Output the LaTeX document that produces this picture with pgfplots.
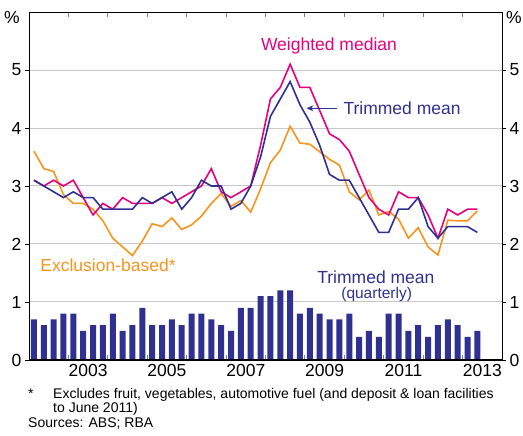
\documentclass[border=0pt]{standalone}
\usepackage{pgfplots}
\pgfplotsset{compat=1.18}
\usepackage{pgfplotstable}
\usepackage{fontspec}
\setmainfont{Liberation Sans}
\usetikzlibrary{arrows.meta}

\definecolor{wmpink}{HTML}{E6007E}
\definecolor{tmblue}{HTML}{2E3192}
\definecolor{exorange}{HTML}{F7941D}
\definecolor{gridgrey}{HTML}{C8C8C8}

\newcommand{\lab}{\fontsize{17.5}{20}\selectfont}
\newcommand{\foot}{\fontsize{14}{16}\selectfont}

% year-ended inflation (wm, tm, ex) and quarterly trimmed mean (q)
\pgfplotstableread{
date     wm   tm   ex    q
2002.125 3.1  3.1  3.6   0.7
2002.375 3.0  3.0  3.3   0.6
2002.625 3.1  2.9  3.25  0.7
2002.875 3.0  2.8  2.85  0.8
2003.125 3.1  2.9  2.7   0.8
2003.375 2.8  2.8  2.7   0.5
2003.625 2.5  2.8  2.6   0.6
2003.875 2.7  2.6  2.4   0.6
2004.125 2.6  2.6  2.1   0.8
2004.375 2.8  2.6  1.95  0.5
2004.625 2.7  2.6  1.8   0.6
2004.875 2.7  2.8  2.05  0.9
2005.125 2.7  2.7  2.35  0.6
2005.375 2.8  2.8  2.3   0.6
2005.625 2.7  2.9  2.45  0.7
2005.875 2.8  2.6  2.25  0.6
2006.125 2.9  2.8  2.33  0.8
2006.375 3.0  3.1  2.48  0.8
2006.625 3.3  3.0  2.7   0.7
2006.875 2.9  3.0  2.87  0.6
2007.125 2.8  2.6  2.65  0.5
2007.375 2.9  2.7  2.75  0.9
2007.625 3.0  3.0  2.55  0.9
2007.875 3.7  3.5  2.95  1.1
2008.125 4.5  4.2  3.4   1.1
2008.375 4.7  4.5  3.62  1.2
2008.625 5.1  4.8  4.03  1.2
2008.875 4.7  4.4  3.74  0.8
2009.125 4.7  4.1  3.72  0.9
2009.375 4.3  3.7  3.59  0.8
2009.625 3.9  3.2  3.46  0.7
2009.875 3.8  3.1  3.36  0.7
2010.125 3.6  3.1  2.9   0.8
2010.375 3.2  2.8  2.76  0.4
2010.625 2.8  2.5  2.93  0.5
2010.875 2.6  2.2  2.5   0.4
2011.125 2.5  2.2  2.56  0.8
2011.375 2.9  2.6  2.43  0.8
2011.625 2.8  2.6  2.1   0.5
2011.875 2.8  2.8  2.28  0.6
2012.125 2.5  2.3  1.95  0.4
2012.375 2.1  2.1  1.81  0.6
2012.625 2.6  2.3  2.41  0.7
2012.875 2.5  2.3  2.4   0.6
2013.125 2.6  2.3  2.4   0.4
2013.375 2.6  2.2  2.57  0.5
}\infl

\begin{document}
\begin{tikzpicture}
\useasboundingbox (0pt,0pt) rectangle (523pt,436pt);
\pgfplotsset{
  base/.style={
    at={(29pt,76pt)}, anchor=south west,
    scale only axis, width=473pt, height=348pt,
    xmin=2002, xmax=2014, ymin=0, ymax=6,
    clip=false,
    tick label style={font=\lab},
    /pgf/number format/assume math mode=true,
  }
}

\begin{axis}[base,
  axis line style={draw=black, line width=0.8pt},
  ytick={0,1,2,3,4,5}, ytick pos=left,
  ymajorgrids, grid style={draw=gridgrey, line width=1pt},
  ytick style={draw=black, line width=0.8pt},
  ytick align=outside, major tick length=4pt,
  xtick={2003.5,2005.5,2007.5,2009.5,2011.5,2013.5},
  xticklabels={2003,2005,2007,2009,2011,2013},
  xtick style={draw=none},
  minor xtick={2003,2004,2005,2006,2007,2008,2009,2010,2011,2012,2013},
  minor x tick style={draw=gray, line width=1pt},
  minor tick length=5pt, xtick align=inside,
  xticklabel style={yshift=-1pt},
]
  \addplot[ybar, bar width=6pt, fill=tmblue, draw=none] table[x=date, y=q] {\infl};
  \addplot[exorange, line width=1.6pt] table[x=date, y=ex] {\infl};
  \addplot[wmpink, line width=1.6pt] table[x=date, y=wm] {\infl};
  \addplot[tmblue, line width=1.6pt] table[x=date, y=tm] {\infl};

  \draw[black, line width=1.6pt] (axis cs:2002,0) -- (axis cs:2014,0);

  \node[wmpink, font=\lab] at (axis cs:2009.61,5.41) {Weighted median};
  \node[tmblue, font=\lab, anchor=west] at (axis cs:2009.89,4.34) {Trimmed mean};
  \draw[tmblue, line width=1pt, -{Stealth[length=7pt, width=6pt]}]
    (axis cs:2009.82,4.34) -- (axis cs:2009.04,4.34);
  \node[exorange, font=\lab, anchor=west] at (axis cs:2002.2,1.64) {Exclusion-based*};
  \node[tmblue, font=\lab] at (axis cs:2010.8,1.43) {Trimmed mean};
  \node[tmblue, font=\fontsize{15.5}{18}\selectfont] at (axis cs:2010.82,1.13) {(quarterly)};
\end{axis}

\begin{axis}[base,
  axis x line=none, axis y line*=right,
  axis line style={draw=black, line width=0.8pt},
  ytick={0,1,2,3,4,5}, ytick pos=right, yticklabel pos=right,
  ytick style={draw=black, line width=0.8pt},
  ytick align=outside, major tick length=4pt,
]
\end{axis}

\node[font=\lab] at (12pt,419pt) {\%};
\node[font=\lab] at (514pt,419pt) {\%};

\node[font=\foot, anchor=base west, inner sep=0pt] at (28pt,37pt) {*};
\node[font=\foot, anchor=base west, inner sep=0pt] at (53pt,37pt)
  {Excludes fruit, vegetables, automotive fuel (and deposit \& loan facilities};
\node[font=\foot, anchor=base west, inner sep=0pt] at (53pt,23pt) {to June 2011)};
\node[font=\foot, anchor=base west, inner sep=0pt] at (28pt,8pt) {Sources: ABS; RBA};
\end{tikzpicture}
\end{document}
